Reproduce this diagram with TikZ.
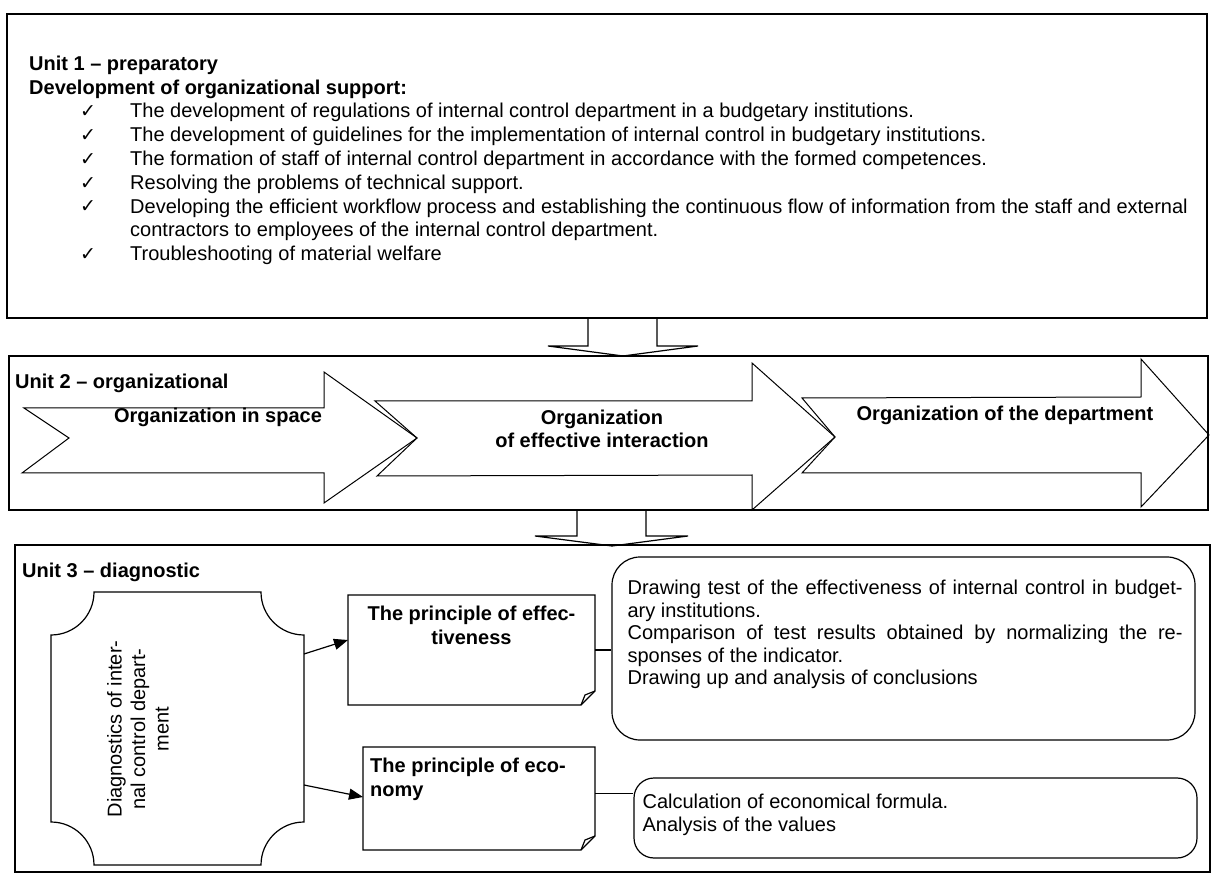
\documentclass[tikz,border=0pt]{standalone}
\usepackage{fontspec}
\setmainfont{Liberation Sans}
\newfontfamily\symfont{DejaVu Sans}
\usetikzlibrary{positioning,arrows.meta,calc}

\newcommand{\chk}{{\symfont\char"2713}}

\begin{document}
\begin{tikzpicture}[x=1pt,y=-1pt,line join=miter,font=\fontsize{20}{23.6}\selectfont]
    \tikzstyle{frame}=[draw,line width=1.4pt]
    \tikzstyle{head}=[font=\fontsize{20}{23.6}\selectfont\bfseries,inner sep=0pt]
    \tikzstyle{item}=[anchor=base west,align=left,inner sep=0pt]
    \tikzstyle{check}=[anchor=base west,inner sep=0pt,font=\fontsize{19}{19}\selectfont]
    \tikzstyle{bigarrow}=[draw,line width=1pt]
    \tikzstyle{downarrow}=[draw,line width=1.2pt]
    \tikzstyle{note}=[inner sep=0pt,outer sep=0pt]
    \tikzstyle{result}=[draw,line width=1.2pt]
    \tikzstyle{link}=[line width=1.2pt]

    \useasboundingbox (0,0) rectangle (1219,882);

    % Unit 1
    \draw[frame] (7,14) rectangle (1207,318);
    \node[head,anchor=base west] (h1) at (29,71) {Unit 1 – preparatory};
    \node[head,anchor=base west] (h1b) at (29,95) {Development of organizational support:};

    \node[item] (I-1) at (130,118) {The development of regulations of internal control department in a budgetary institutions.};
    \node[item] (I-2) at (130,142) {The development of guidelines for the implementation of internal control in budgetary institutions.};
    \node[item] (I-3) at (130,166) {The formation of staff of internal control department in accordance with the formed competences.};
    \node[item] (I-4) at (130,190) {Resolving the problems of technical support.};
    \node[item] (I-5) at (130,237) {Developing the efficient workflow process and establishing the continuous flow of information from the staff and external\\contractors to employees of the internal control department.};
    \node[item] (I-6) at (130,261) {Troubleshooting of material welfare};

    \foreach \y [count=\i] in {118,142,166,190,213,261}
        \node[check] (C-\i) at (80,\y) {\chk};

    % Down arrow to unit 2
    \draw[downarrow] (588,318) -- (588,346) -- (548,346) -- (623,356) -- (698,346) -- (657,346) -- (657,318);

    % Unit 2
    \draw[frame] (9,356) rectangle (1208,510);
    \node[head,anchor=base west] (h2) at (15,389) {Unit 2 – organizational};

    \draw[bigarrow] (24,408) -- (324,408) -- (324,372) -- (417,438) -- (324,503) -- (324,473) -- (22,473) -- (69,438) -- cycle;
    \draw[bigarrow] (375,401) -- (752,401) -- (752,363) -- (835,437) -- (752,510) -- (752,475) -- (377,476) -- (417,438) -- cycle;
    \draw[bigarrow] (802,398) -- (1141,397) -- (1141,359) -- (1209,435) -- (1141,507) -- (1141,473) -- (802,473) -- (835,437) -- cycle;

    \node[head] (space) at (218,417) {Organization in space};
    \node[head,align=center] (interact) at (602,429) {Organization\\of effective interaction};
    \node[head] (dept) at (1005,415) {Organization of the department};

    % Down arrow to unit 3
    \draw[downarrow] (577,510) -- (577,536) -- (535,536) -- (612,546) -- (688,536) -- (646,536) -- (646,510);

    % Unit 3
    \draw[frame] (15,545) rectangle (1210,872);
    \node[head,anchor=base west] (h3) at (22,577) {Unit 3 – diagnostic};

    % Diagnostics block with cut corners
    \node[note,minimum width=253pt,minimum height=273pt] (diag) at (177.5,728.5) {};
    \draw[result] ($(diag.north west)+(43,0)$) -- ($(diag.north east)+(-43,0)$)
        arc[start angle=180,end angle=90,radius=43] -- ($(diag.south east)+(0,-43)$)
        arc[start angle=270,end angle=180,radius=43] -- ($(diag.south west)+(43,0)$)
        arc[start angle=360,end angle=270,radius=43] -- ($(diag.north west)+(0,43)$)
        arc[start angle=90,end angle=0,radius=43] -- cycle;
    \node[rotate=90,align=center,inner sep=0pt] (diag-text) at (138,729) {Diagnostics of inter-\\nal control depart-\\ment};

    % Principle boxes with folded corner
    \node[note,minimum width=247pt,minimum height=110pt] (eff) at (471.5,650) {};
    \draw[result] (eff.north west) -- (eff.north east) -- ([yshift=14pt]eff.south east)
        -- ([xshift=-14pt]eff.south east) -- (eff.south west) -- cycle;
    \draw[result] ([yshift=14pt]eff.south east) -- ([xshift=-10pt,yshift=10pt]eff.south east) -- ([xshift=-14pt]eff.south east);
    \node[head,align=center,anchor=north] (eff-text) at ([yshift=-11pt]eff.north) {The principle of effec-\\tiveness};

    \node[note,minimum width=232pt,minimum height=103pt] (eco) at (479,798.5) {};
    \draw[result] (eco.north west) -- (eco.north east) -- ([yshift=14pt]eco.south east)
        -- ([xshift=-14pt]eco.south east) -- (eco.south west) -- cycle;
    \draw[result] ([yshift=14pt]eco.south east) -- ([xshift=-10pt,yshift=10pt]eco.south east) -- ([xshift=-14pt]eco.south east);
    \node[head,align=left,anchor=north west] (eco-text) at ([xshift=7pt,yshift=-11pt]eco.north west) {The principle of eco-\\nomy};

    % Result boxes
    \node[result,rounded corners=28pt,minimum width=583pt,minimum height=183pt] (res1) at (903.5,648.5) {};
    \node[anchor=north west,align=left,inner sep=0pt,font=\fontsize{20}{22.5}\selectfont] (res1-text)
        at ([xshift=16pt,yshift=-23.5pt]res1.north west)
        {\makebox[555pt][s]{Drawing test of the effectiveness of internal control in budget-}\\ary institutions.\\\makebox[555pt][s]{Comparison of test results obtained by normalizing the re-}\\sponses of the indicator.\\Drawing up and analysis of conclusions};

    \node[result,rounded corners=20pt,minimum width=563pt,minimum height=80pt] (res2) at (915.5,818) {};
    \node[anchor=north west,align=left,inner sep=0pt,font=\fontsize{20}{23}\selectfont] (res2-text)
        at ([xshift=9pt,yshift=-16.5pt]res2.north west)
        {Calculation of economical formula.\\Analysis of the values};

    % Connect the blocks
    \draw[link,-{Triangle[length=14pt,width=11pt]}] ([yshift=74.5pt]diag.east) -- ([yshift=10pt]eff.west);
    \draw[link,-{Triangle[length=14pt,width=11pt]}] ([yshift=-56.5pt]diag.east) -- ([yshift=1.5pt]eco.west);
    \draw[link] (eff.east) -- (eff.east -| res1.west);
    \coordinate (eco-out) at ([yshift=5pt]eco.east);
    \draw[link] (eco-out) -- (eco-out -| res2.west);
\end{tikzpicture}
\end{document}
